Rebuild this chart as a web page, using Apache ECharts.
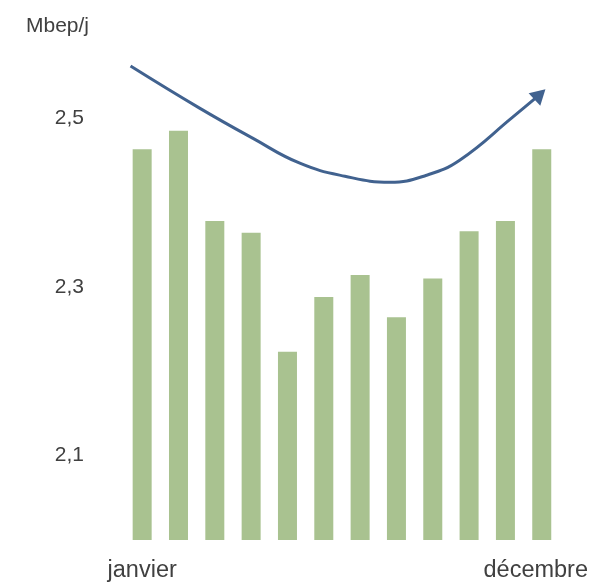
<!DOCTYPE html>
<html>
<head>
<meta charset="utf-8">
<script src="https://cdn.jsdelivr.net/npm/echarts@6/dist/echarts.min.js"></script>
<style>html,body{margin:0;padding:0;background:#fff}#c{width:591px;height:583px}</style>
</head>
<body>
<div id="c"></div>
<script>
const months = ['janvier','février','mars','avril','mai','juin','juillet','août','septembre','octobre','novembre','décembre'];
const shownMonths = ['janvier','décembre'];
const production = [2.463, 2.485, 2.378, 2.364, 2.223, 2.288, 2.314, 2.264, 2.310, 2.366, 2.378, 2.463];
const yTickLabels = [2.1, 2.3, 2.5];
const unitLabel = 'Mbep/j';
// trend arrow (x in month-slot units from the left edge, y in Mbep/j)
const trendX = [0.18, 2.08, 3.54, 4.84, 6.08, 7.32, 8.33, 9.24, 10.70, 11.45];
const trendY = [2.5617, 2.5118, 2.4762, 2.4465, 2.4311, 2.4240, 2.4323, 2.4501, 2.5011, 2.5280];

const trendData = trendX.map((x, i) => {
  if (i === trendX.length - 1) {
    return {value: [x, trendY[i]], symbol: 'triangle', symbolSize: [17, 15], symbolRotate: -47};
  }
  return {value: [x, trendY[i]]};
});

const chart = echarts.init(document.getElementById('c'));
chart.setOption({
  animation: false,
  title: {
    text: unitLabel, left: 21, top: 11,
    textStyle: {fontFamily: 'Liberation Sans', fontSize: 21, fontWeight: 'normal', color: '#404040'}
  },
  grid: {left: 124, right: 31, top: 33.7, bottom: 43},
  xAxis: [{
    type: 'category', data: months,
    axisLine: {show: false}, axisTick: {show: false},
    axisLabel: {
      interval: 0, margin: 19,
      fontFamily: 'Liberation Sans', fontSize: 23.5, color: '#404040',
      formatter: v => shownMonths.indexOf(v) === 0 ? v : (shownMonths.indexOf(v) === 1 ? '{d|' + v + '}' : ''),
      rich: {d: {fontFamily: 'Liberation Sans', fontSize: 23.5, color: '#404040', padding: [0, 12, 0, 0]}}
    }
  }, {
    type: 'value', min: 0, max: 12, show: false
  }],
  yAxis: {
    type: 'value', min: 2.0, max: 2.6, interval: 0.1,
    splitLine: {show: false}, axisLine: {show: false}, axisTick: {show: false},
    axisLabel: {
      margin: 40, fontFamily: 'Liberation Sans', fontSize: 21, color: '#404040',
      formatter: v => {
        const r = Math.round(v * 10) / 10;
        return yTickLabels.some(t => Math.abs(t - r) < 1e-6) ? r.toFixed(1).replace('.', ',') : '';
      }
    }
  },
  series: [{
    type: 'bar', data: production, barWidth: 19,
    itemStyle: {color: '#a9c290'}
  }, {
    type: 'line', xAxisIndex: 1, data: trendData, smooth: 0.45,
    symbol: 'none', showSymbol: true,
    lineStyle: {color: '#41628f', width: 3},
    itemStyle: {color: '#41628f'}
  }]
});
</script>
</body>
</html>
